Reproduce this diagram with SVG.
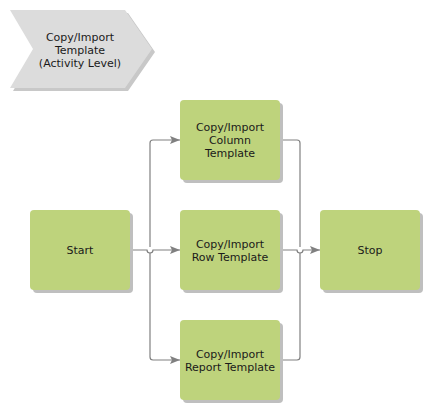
<svg xmlns="http://www.w3.org/2000/svg" width="430" height="410" viewBox="0 0 430 410">
<defs>
<style>
.box{fill:#bed37c;}
.sh{fill:#bfbfbf;}
.t{font-family:"DejaVu Sans",Verdana,sans-serif;font-size:11px;fill:#1a1a1a;text-anchor:middle;}
.c{fill:none;stroke:#808080;stroke-width:1.2;}
</style>
<marker id="ah" viewBox="0 0 10 8" refX="10" refY="4" markerWidth="10" markerHeight="8" markerUnits="userSpaceOnUse" orient="auto">
<path d="M0,0 L10,4 L0,8 L2,4 Z" fill="#808080"/>
</marker>
</defs>
<rect width="430" height="410" fill="#ffffff"/>
<g id="header">
<polygon points="13,13 128,13 155,52 128,91 13,91 36,52" fill="#c8c8c8"/>
<polygon points="10,10 125,10 152,49 125,88 10,88 33,49" fill="#dcdcdc"/>
<text class="t" x="80" y="41">Copy/Import</text>
<text class="t" x="80" y="54">Template</text>
<text class="t" x="80" y="67">(Activity Level)</text>
</g>
<g id="connectors">
<path class="c" d="M130,250 H147 A3,3 0 0 0 153,250 H180" marker-end="url(#ah)"/>
<path class="c" d="M150,247 V143 Q150,140 153,140 H180" marker-end="url(#ah)"/>
<path class="c" d="M150,253 V357 Q150,360 153,360 H180" marker-end="url(#ah)"/>
<path class="c" d="M280,250 H297 A3,3 0 0 0 303,250 H320" marker-end="url(#ah)"/>
<path class="c" d="M280,140 H297 Q300,140 300,143 V247"/>
<path class="c" d="M280,360 H297 Q300,360 300,357 V253"/>
</g>
<g id="start">
<rect class="sh" x="33" y="213" width="100" height="80" rx="4"/>
<rect class="box" x="30" y="210" width="100" height="80" rx="4"/>
<text class="t" x="80" y="254">Start</text>
</g>
<g id="column">
<rect class="sh" x="183" y="103" width="100" height="80" rx="4"/>
<rect class="box" x="180" y="100" width="100" height="80" rx="4"/>
<text class="t" x="230" y="131">Copy/Import</text>
<text class="t" x="230" y="144">Column</text>
<text class="t" x="230" y="157">Template</text>
</g>
<g id="row">
<rect class="sh" x="183" y="213" width="100" height="80" rx="4"/>
<rect class="box" x="180" y="210" width="100" height="80" rx="4"/>
<text class="t" x="230" y="248">Copy/Import</text>
<text class="t" x="230" y="261">Row Template</text>
</g>
<g id="report">
<rect class="sh" x="183" y="323" width="100" height="80" rx="4"/>
<rect class="box" x="180" y="320" width="100" height="80" rx="4"/>
<text class="t" x="230" y="358">Copy/Import</text>
<text class="t" x="230" y="371">Report Template</text>
</g>
<g id="stop">
<rect class="sh" x="323" y="213" width="100" height="80" rx="4"/>
<rect class="box" x="320" y="210" width="100" height="80" rx="4"/>
<text class="t" x="370" y="254">Stop</text>
</g>
</svg>
